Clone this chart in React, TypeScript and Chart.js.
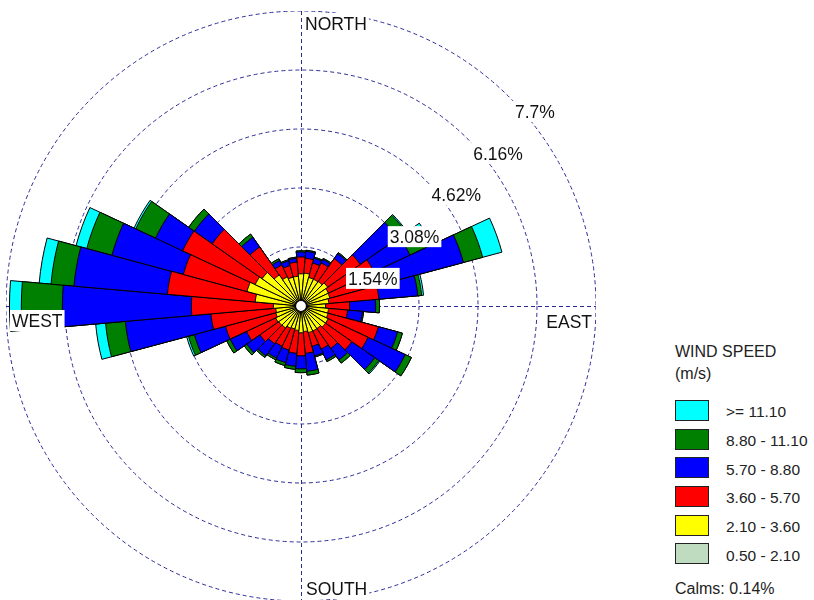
import React, { useEffect, useRef } from 'react';
import { Chart, registerables } from 'chart.js';

Chart.register(...registerables);

// ---- data ----
const DIRECTIONS = ['0°','10°','20°','30°','40°','50°','60°','70°','80°','90°','100°','110°','120°','130°','140°','150°','160°','170°','180°','190°','200°','210°','220°','230°','240°','250°','260°','270°','280°','290°','300°','310°','320°','330°','340°','350°'];
const RING_TICKS = [1.54, 3.08, 4.62, 6.16, 7.7];
const COMPASS = ['NORTH', 'EAST', 'SOUTH', 'WEST'];
const SPEED_CLASSES = ['0.50 - 2.10', '2.10 - 3.60', '3.60 - 5.70', '5.70 - 8.80', '8.80 - 11.10', '>= 11.10'];
const CLASS_COLORS = ['#c0dcc0', '#ffff00', '#ff0000', '#0000ff', '#008000', '#00ffff'];
const LEGEND_TITLE = 'WIND SPEED';
const LEGEND_UNIT = '(m/s)';
const CALMS = 0.14;

// percent frequency per direction (0°, 10°, ... 350°) and speed class
const S_050_210 = [0.14,0.14,0.13,0.13,0.14,0.15,0.15,0.14,0.14,0.13,0.13,0.14,0.14,0.14,0.13,0.13,0.13,0.13,0.13,0.13,0.13,0.13,0.13,0.14,0.14,0.14,0.15,0.15,0.16,0.16,0.15,0.15,0.14,0.14,0.14,0.14];
const S_210_360 = [0.70,0.72,0.64,0.64,0.64,0.70,0.64,0.64,0.59,0.51,0.59,0.59,0.64,0.64,0.59,0.59,0.59,0.54,0.57,0.51,0.49,0.51,0.57,0.57,0.59,0.54,0.51,0.57,1.04,1.30,1.17,1.09,0.85,0.70,0.64,0.64];
const S_360_570 = [0.44,0.39,0.39,0.47,0.73,1.04,1.31,1.31,1.31,0.63,0.50,1.36,1.15,0.84,0.63,0.52,0.37,0.57,0.60,0.60,0.57,0.52,0.50,0.60,0.84,1.36,1.70,2.14,2.30,1.72,2.09,1.59,0.89,0.34,0.31,0.37];
const S_570_880 = [0.13,0.18,0.13,0.10,0.16,1.20,1.04,2.30,1.02,0.68,0.39,0.52,1.07,0.73,0.37,0.31,0.26,0.47,0.34,0.34,0.34,0.34,0.39,0.42,0.47,0.84,2.24,3.37,2.45,1.93,0.78,0.57,0.31,0.13,0.13,0.10];
const S_880_1110 = [0.03,0.03,0.03,0.03,0.03,0.26,0.47,0.52,0.10,0.10,0.03,0.13,0.18,0.13,0.10,0.05,0.03,0.10,0.10,0.08,0.08,0.05,0.05,0.08,0.10,0.16,0.52,1.07,0.60,0.68,0.57,0.18,0.10,0.05,0.03,0.03];
const S_GE_1110 = [0,0,0,0,0,0.03,0.16,0.52,0.05,0,0,0,0,0.03,0,0,0,0,0,0,0,0,0,0,0,0.05,0.26,0.31,0.31,0.29,0.05,0,0,0,0,0];

const FONT = '"Liberation Sans", Arial, sans-serif';
const GRID_COLOR = '#2b2b96';
const TEXT_COLOR = '#111';

const decorPlugin = {
  id: 'windRoseDecor',
  beforeDatasetsDraw(chart: any) {
    const s = chart.scales.r;
    const ctx = chart.ctx;
    const cx = s.xCenter, cy = s.yCenter;
    const R = s.getDistanceFromCenterForValue(RING_TICKS[RING_TICKS.length - 1]);
    ctx.save();
    ctx.strokeStyle = GRID_COLOR;
    ctx.lineWidth = 1;
    ctx.setLineDash([4, 3]);
    ctx.beginPath();
    ctx.moveTo(cx + 0.5, cy - R);
    ctx.lineTo(cx + 0.5, cy + R);
    ctx.moveTo(cx - R, cy + 0.5);
    ctx.lineTo(cx + R, cy + 0.5);
    ctx.stroke();
    ctx.restore();
  },
  afterDatasetsDraw(chart: any) {
    const s = chart.scales.r;
    const ctx = chart.ctx;
    const cx = s.xCenter, cy = s.yCenter;
    const R = s.getDistanceFromCenterForValue(RING_TICKS[RING_TICKS.length - 1]);
    ctx.save();
    // calm circle
    ctx.beginPath();
    ctx.arc(cx, cy, 5.5, 0, Math.PI * 2);
    ctx.fillStyle = '#fff';
    ctx.fill();
    ctx.strokeStyle = '#000';
    ctx.lineWidth = 1.2;
    ctx.stroke();

    ctx.font = `17.5px ${FONT}`;
    ctx.textBaseline = 'alphabetic';
    ctx.textAlign = 'left';
    const label = (text: string, x: number, y: number, right = false) => {
      const w = ctx.measureText(text).width;
      const left = right ? x - w : x;
      ctx.fillStyle = '#fff';
      ctx.fillRect(left - 2, y - 17, w + 4, 21);
      ctx.fillStyle = TEXT_COLOR;
      ctx.fillText(text, left, y);
    };
    RING_TICKS.forEach((v) => {
      const r = s.getDistanceFromCenterForValue(v);
      const px = cx + r * Math.SQRT1_2;
      const py = cy - r * Math.SQRT1_2;
      label(`${v}%`, px + 5.3, py + 20.6);
    });
    label(COMPASS[0], cx + 4, cy - R + 19);
    label(COMPASS[1], cx + R - 4, cy + 22, true);
    label(COMPASS[2], cx + 5, cy + R - 6);
    label(COMPASS[3], cx - R + 6, cy + 21);
    ctx.restore();
  },
};

export default function App() {
  const ref = useRef<HTMLCanvasElement>(null);

  useEffect(() => {
    const classes = [S_050_210, S_210_360, S_360_570, S_570_880, S_880_1110, S_GE_1110];
    const cum: number[][] = [];
    classes.forEach((arr, k) => {
      cum.push(arr.map((v, i) => (k ? cum[k - 1][i] : 0) + v));
    });
    const chart = new Chart(ref.current as HTMLCanvasElement, {
      type: 'polarArea',
      data: {
        labels: DIRECTIONS,
        datasets: cum.map((d, k) => ({
          label: SPEED_CLASSES[k],
          data: d,
          backgroundColor: CLASS_COLORS[k],
          borderColor: '#000',
          borderWidth: 1,
        })),
      },
      options: {
        animation: false,
        responsive: false,
        maintainAspectRatio: false,
        events: [],
        layout: { padding: 0 },
        plugins: { legend: { display: false }, tooltip: { enabled: false } },
        scales: {
          r: {
            min: 0,
            max: RING_TICKS[RING_TICKS.length - 1],
            startAngle: -5,
            afterBuildTicks: (scale: any) => {
              scale.ticks = [0, ...RING_TICKS].map((v) => ({ value: v }));
            },
            ticks: { display: false },
            grid: { circular: true, color: GRID_COLOR, lineWidth: 1 },
            border: { dash: [4, 3] },
            angleLines: { display: false },
            pointLabels: { display: false },
          },
        },
      } as any,
      plugins: [decorPlugin],
    });
    return () => chart.destroy();
  }, []);

  const legendRows = [...SPEED_CLASSES].map((t, i) => ({ t, c: CLASS_COLORS[i] })).reverse();

  return (
    <div style={{ position: 'fixed', left: 0, top: 0, width: 814, height: 600, overflow: 'hidden', background: '#fff', fontFamily: FONT, color: '#222' }}>
      <canvas ref={ref} width={590} height={590} style={{ position: 'absolute', left: 6, top: 11, width: 590, height: 590 }} />
      <div style={{ position: 'absolute', left: 675, top: 344, fontSize: 16, lineHeight: '16px', whiteSpace: 'nowrap' }}>{LEGEND_TITLE}</div>
      <div style={{ position: 'absolute', left: 675, top: 366, fontSize: 16, lineHeight: '16px', whiteSpace: 'nowrap' }}>{LEGEND_UNIT}</div>
      {legendRows.map((row, i) => {
        const top = 400 + i * 28.67;
        return (
          <React.Fragment key={row.t}>
            <div style={{ position: 'absolute', left: 675, top, width: 34, height: 21, boxSizing: 'border-box', border: '1px solid #222', background: row.c }} />
            <div style={{ position: 'absolute', left: 726, top: top + 4.2, fontSize: 15.5, lineHeight: '15.5px', whiteSpace: 'nowrap' }}>{row.t}</div>
          </React.Fragment>
        );
      })}
      <div style={{ position: 'absolute', left: 675, top: 581, fontSize: 16, lineHeight: '16px', whiteSpace: 'nowrap' }}>{`Calms: ${CALMS.toFixed(2)}%`}</div>
    </div>
  );
}
